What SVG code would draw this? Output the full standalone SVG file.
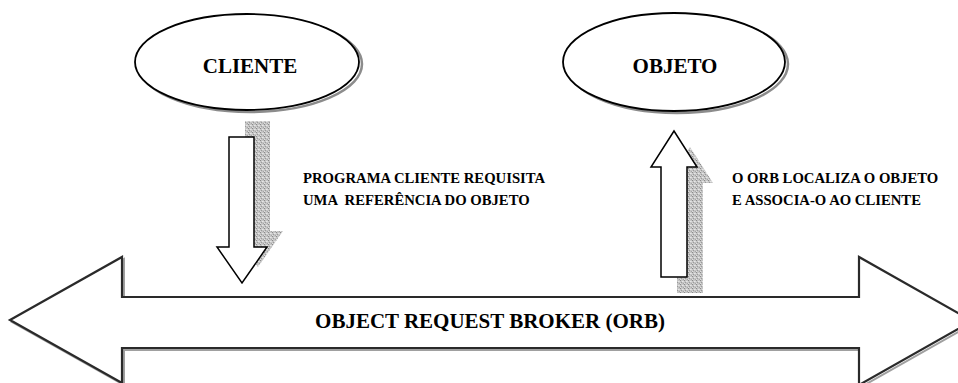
<svg xmlns="http://www.w3.org/2000/svg" width="958" height="383" viewBox="0 0 958 383">
<defs>
<pattern id="grain" width="4" height="4" patternUnits="userSpaceOnUse">
<rect width="4" height="4" fill="#c4c4c4"/>
<rect x="0" y="0" width="1" height="1" fill="#8a8a8a"/>
<rect x="2" y="1" width="1" height="1" fill="#e6e6e6"/>
<rect x="1" y="2" width="1" height="1" fill="#9a9a9a"/>
<rect x="3" y="3" width="1" height="1" fill="#a5a5a5"/>
<rect x="3" y="1" width="1" height="1" fill="#dcdcdc"/>
<rect x="0" y="3" width="1" height="1" fill="#e0e0e0"/>
</pattern>
</defs>
<style>
text { font-family: 'Liberation Serif', 'Times New Roman', serif; font-weight: bold; fill: #000; }
.node { font-size: 21px; text-anchor: middle; }
.lbl { font-size: 14.7px; }
.ell { fill: #fff; stroke: #000; stroke-width: 1.8; }
.ellsh { fill: none; stroke: #8c8c8c; stroke-width: 2.5; }
.arr { fill: #fff; stroke: #000; stroke-width: 1.5; stroke-linejoin: miter; }
.sh { fill: url(#grain); stroke: none; }
.bus { fill: #fff; stroke: #2a2a2a; stroke-width: 2.2; stroke-linejoin: miter; }
.bussh { fill: none; stroke: #a0a0a0; stroke-width: 2; }
</style>

<g id="orb">
<polygon class="bussh" points="12,322 124,259 124,299 861,299 861,259 974,323 861,387 861,350 124,350 124,385"/>
<polygon class="bus" points="10,320 122,257 122,297 859,297 859,257 972,321 859,385 859,348 122,348 122,383"/>
<text class="node" font-family="Liberation Serif, serif" x="490" y="328">OBJECT REQUEST BROKER (ORB)</text>
</g>

<g id="cliente">
<ellipse class="ellsh" cx="250" cy="64" rx="112" ry="48"/>
<ellipse class="ell" cx="247" cy="62" rx="112" ry="48"/>
<text class="node" font-family="Liberation Serif, serif" x="250" y="73">CLIENTE</text>
</g>

<g id="objeto">
<ellipse class="ellsh" cx="677" cy="64" rx="111" ry="49"/>
<ellipse class="ell" cx="674" cy="62" rx="111" ry="49"/>
<text class="node" font-family="Liberation Serif, serif" x="675" y="73">OBJETO</text>
</g>

<g id="connectors">
<g id="req-arrow">
<polygon class="sh" points="245,121 270,121 270,231 283,231 258,267 233,231 245,231"/>
<polygon class="arr" points="229,137 254,137 254,247 267,247 242,283 217,247 229,247"/>
</g>
<g id="loc-arrow">
<polygon class="sh" points="690,147 713,183 703,183 703,293 677,293 677,183 667,183"/>
<polygon class="arr" points="674,131 697,167 687,167 687,277 661,277 661,167 651,167"/>
</g>
</g>

<g id="labels">
<text class="lbl" font-family="Liberation Serif, serif" x="303" y="183">PROGRAMA CLIENTE REQUISITA</text>
<text class="lbl" font-family="Liberation Serif, serif" x="303" y="205" xml:space="preserve">UMA  REFERÊNCIA DO OBJETO</text>
<text class="lbl" font-family="Liberation Serif, serif" x="732" y="183">O ORB LOCALIZA O OBJETO</text>
<text class="lbl" font-family="Liberation Serif, serif" x="732" y="205">E ASSOCIA-O AO CLIENTE</text>
</g>
</svg>
